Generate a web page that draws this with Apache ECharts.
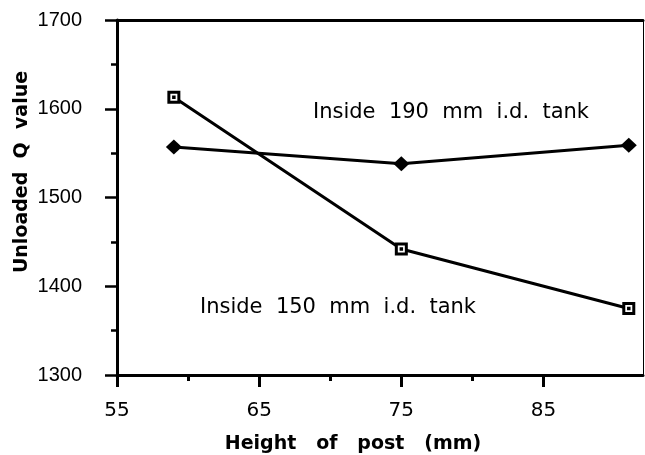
<!DOCTYPE html>
<html>
<head>
<meta charset="utf-8">
<script src="https://cdn.jsdelivr.net/npm/echarts@6/dist/echarts.min.js"></script>
<style>
  html, body { margin: 0; padding: 0; background: #fff; }
  #chart { width: 645px; height: 455px; }
</style>
</head>
<body>
<div id="chart"></div>
<script>
// post height (mm)
const heights = [59, 75, 91];
// unloaded Q, 190 mm i.d. tank (diamonds)
const q190 = [1557, 1538, 1559];
// unloaded Q, 150 mm i.d. tank (squares)
const q150 = [1613, 1442, 1375];

const xMajor = [55, 65, 75, 85];
const xMinor = [60, 70, 80];

const pairs = (ys) => heights.map((h, i) => [h, ys[i]]);

const squareDot = 'path://M0 0H10V10H0Z M4.75 4.75H5.25V5.25H4.75Z';

let chart = echarts.init(document.getElementById('chart'));
let option = {
  animation: false,
  backgroundColor: '#fff',
  grid: { left: 117, right: 2, top: 20, bottom: 80, outerBoundsMode: 'none' },
  xAxis: [
    {
      type: 'value', min: 55, max: 92, interval: 10,
      axisLine: { lineStyle: { color: '#000', width: 3 } },
      axisTick: { length: 12, lineStyle: { color: '#000', width: 3 }, customValues: xMajor },
      axisLabel: {
        customValues: xMajor, margin: 26, color: '#000',
        fontFamily: 'DejaVu Sans', fontSize: 20
      },
      splitLine: { show: false }
    },
    {
      type: 'value', min: 55, max: 92, position: 'bottom',
      axisLine: { show: false },
      axisTick: { length: 6, lineStyle: { color: '#000', width: 3 }, customValues: xMinor },
      axisLabel: { show: false },
      splitLine: { show: false }
    },
    {
      type: 'value', min: 55, max: 92, position: 'top',
      axisLine: { lineStyle: { color: '#000', width: 3 } },
      axisTick: { show: false },
      axisLabel: { show: false },
      splitLine: { show: false }
    }
  ],
  yAxis: [
    {
      type: 'value', min: 1300, max: 1700, interval: 100,
      axisLine: { lineStyle: { color: '#000', width: 3 } },
      axisTick: { length: 12, lineStyle: { color: '#000', width: 2.5 } },
      minorTick: { show: true, splitNumber: 2, length: 6, lineStyle: { color: '#000', width: 2.5 } },
      axisLabel: {
        margin: 35, color: '#000',
        fontFamily: 'Liberation Sans', fontSize: 20,
        formatter: (v) => String(v)
      },
      splitLine: { show: false }
    },
    {
      type: 'value', min: 1300, max: 1700, position: 'right',
      axisLine: { lineStyle: { color: '#000', width: 1 } },
      axisTick: { show: false },
      axisLabel: { show: false },
      splitLine: { show: false }
    }
  ],
  series: [
    {
      name: '190 mm',
      type: 'line',
      data: pairs(q190),
      symbol: 'diamond',
      symbolSize: [16, 15],
      itemStyle: { color: '#000' },
      lineStyle: { color: '#000', width: 3 }
    },
    {
      name: '150 mm',
      type: 'line',
      data: pairs(q150),
      symbol: squareDot,
      symbolSize: 10,
      itemStyle: { color: '#fff', borderColor: '#000', borderWidth: 3 },
      lineStyle: { color: '#000', width: 3 }
    }
  ],
  graphic: [
    {
      type: 'text', x: 313, y: 113,
      style: {
        text: 'Inside  190  mm  i.d.  tank', fill: '#000',
        font: '21px "DejaVu Sans"', textAlign: 'left', textVerticalAlign: 'middle'
      }
    },
    {
      type: 'text', x: 200, y: 308,
      style: {
        text: 'Inside  150  mm  i.d.  tank', fill: '#000',
        font: '21px "DejaVu Sans"', textAlign: 'left', textVerticalAlign: 'middle'
      }
    },
    {
      type: 'text', x: 353, y: 444,
      style: {
        text: 'Height   of   post   (mm)', fill: '#000',
        font: 'bold 19px "DejaVu Sans"', textAlign: 'center', textVerticalAlign: 'middle'
      }
    },
    {
      type: 'text', x: 22, y: 172, rotation: Math.PI / 2,
      style: {
        text: 'Unloaded  Q  value', fill: '#000',
        font: 'bold 19px "DejaVu Sans"', textAlign: 'center', textVerticalAlign: 'middle'
      }
    }
  ]
};
chart.setOption(option);
</script>
</body>
</html>
